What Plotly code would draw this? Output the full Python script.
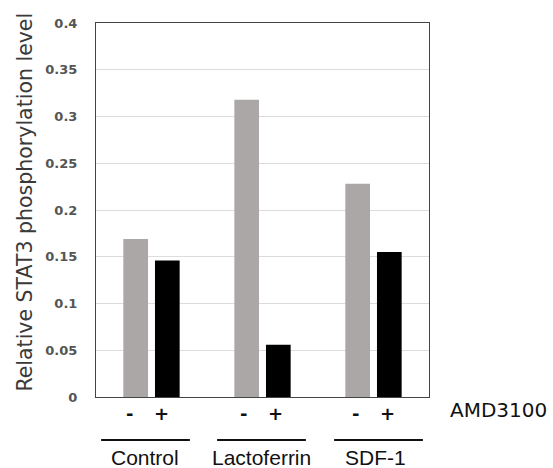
import plotly.graph_objects as go

categories = ["Control", "Lactoferrin", "SDF-1"]
minus_values = [0.169, 0.318, 0.228]
plus_values = [0.146, 0.056, 0.155]
sign_labels = ["-", "+"]
treatment_label = "AMD3100"
y_title = "Relative STAT3 phosphorylation level"
y_ticks = [0, 0.05, 0.1, 0.15, 0.2, 0.25, 0.3, 0.35, 0.4]
y_ticktext = ["0", "0.05", "0.1", "0.15", "0.2", "0.25", "0.3", "0.35", "0.4"]

# style / layout tweaks (pixel shifts)
sign_shifts = [-19, 13]
cat_sign_adjust = [-3, 0, 1]
label_shifts = [-7, -1, 2]
line_shifts = [-0.054, -0.009, 0.045]
FONT = "DejaVu Sans"

fig = go.Figure()
fig.add_trace(go.Bar(x=categories, y=minus_values, name="-", marker=dict(color="#aaa7a6", line=dict(width=0))))
fig.add_trace(go.Bar(x=categories, y=plus_values, name="+", marker=dict(color="#000000", line=dict(width=0))))

annotations = []
shapes = []
for i, cat in enumerate(categories):
    for s, sh in zip(sign_labels, sign_shifts):
        annotations.append(dict(x=cat, y=-0.043, xref="x", yref="paper", text=s, showarrow=False,
                                xshift=sh + cat_sign_adjust[i],
                                font=dict(family=FONT, size=18, color="#111111", weight="bold"),
                                xanchor="center", yanchor="middle"))
    annotations.append(dict(x=cat, y=-0.163, xref="x", yref="paper", text=cat, showarrow=False,
                            xshift=label_shifts[i],
                            font=dict(family="Liberation Sans", size=21, color="#111111"),
                            xanchor="center", yanchor="middle"))
    c = i + line_shifts[i]
    shapes.append(dict(type="line", xref="x", yref="paper", x0=c - 0.4, x1=c + 0.4, y0=-0.115, y1=-0.115,
                       line=dict(color="#111111", width=2)))

annotations.append(dict(x=1.056, y=-0.035, xref="paper", yref="paper", text=treatment_label, showarrow=False,
                        font=dict(family=FONT, size=20, color="#111111"), xanchor="left", yanchor="middle"))
annotations.append(dict(x=-0.216, y=0.52, xref="paper", yref="paper", text=y_title, showarrow=False, textangle=-90,
                        font=dict(family=FONT, size=20.5, color="#3a3a3a"), xanchor="center", yanchor="middle"))

fig.update_layout(
    width=553, height=468,
    margin=dict(l=96, r=124, t=23, b=71),
    paper_bgcolor="white", plot_bgcolor="white",
    barmode="group", bargap=0.43, bargroupgap=0.22,
    showlegend=False,
    annotations=annotations, shapes=shapes,
    xaxis=dict(showticklabels=False, showgrid=False, showline=True, linecolor="#444444", linewidth=1, mirror=True,
               ticks="", range=[-0.5, 2.5]),
    yaxis=dict(range=[0, 0.4], tickvals=y_ticks, ticktext=y_ticktext, showgrid=True, gridcolor="#dcdcdc", gridwidth=1,
               showline=True, linecolor="#444444", linewidth=1, mirror=True, zeroline=False, ticks="",
               ticklabelstandoff=15,
               tickfont=dict(family=FONT, size=13, color="#555555", weight="bold")),
)

fig.write_html(
    "out.html",
    config={"displayModeBar": False},
    post_script="document.body.style.margin='0';document.documentElement.style.overflow='hidden';",
)
